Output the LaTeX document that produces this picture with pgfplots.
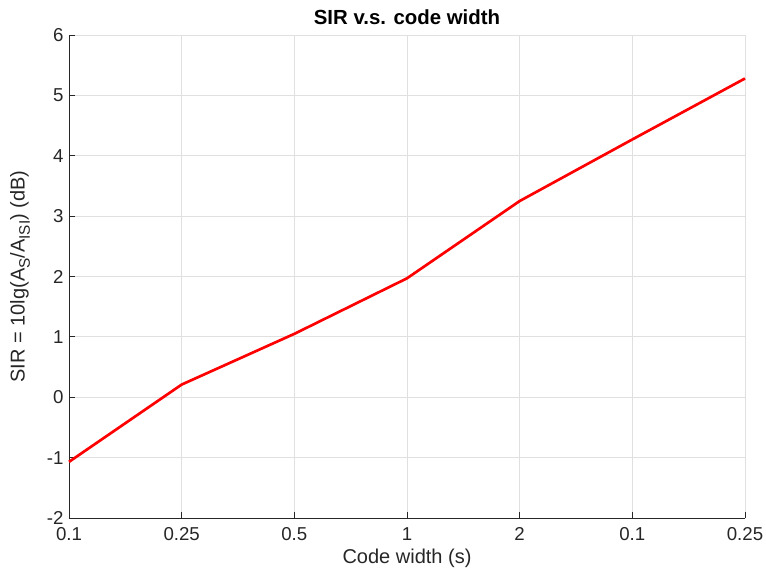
\documentclass[border=0pt]{standalone}
\usepackage{fontspec}
\setmainfont{Liberation Sans}
\usepackage{pgfplots}
\pgfplotsset{compat=1.18}
\definecolor{axgray}{gray}{0.15}
\definecolor{gridgray}{gray}{0.88}
\newcommand{\sub}[1]{\raisebox{-0.5ex}{\fontsize{11.5}{12}\selectfont #1}}
\begin{document}
\begin{tikzpicture}
\begin{axis}[
  scale only axis,
  width=507pt, height=362.25pt,
  xmin=0, xmax=6, ymin=-2, ymax=6,
  xtick={0,1,2,3,4,5,6},
  xticklabels={0.1,0.25,0.5,1,2,0.1,0.25},
  ytick={-2,-1,0,1,2,3,4,5,6},
  axis x line*=bottom, axis y line*=left,
  axis line style={axgray, line width=0.6pt},
  tick style={axgray, line width=0.6pt},
  tick align=inside,
  major tick length=4.5pt,
  grid=major,
  major grid style={gridgray, line width=0.6pt},
  /pgf/number format/assume math mode=true,
  ticklabel style={font=\fontsize{14}{16}\selectfont, text=axgray},
  xticklabel style={yshift=-3.6pt},
  yticklabel style={xshift=-0.6pt},
  label style={font=\fontsize{15}{17}\selectfont, text=axgray},
  xlabel={Code width (s)},
  xlabel style={at={(axis description cs:0.5,-0.0828)}, anchor=center},
  ylabel={SIR = 10lg(A\sub{S}/A\sub{ISI}) (dB)},
  ylabel style={at={(axis description cs:-0.0725,0.5)}, anchor=center},
  every axis title shift=0pt,
  title={\textbf{SIR v.s. code width}},
  title style={font=\fontsize{15.3}{17}\selectfont, at={(axis description cs:0.5,1.0373)}, anchor=center},
  clip=false,
]
\addplot[red, line width=2pt] coordinates {
 (0,-1.07) (1,0.21) (2,1.05) (3,1.97) (4,3.25) (5,4.27) (6,5.28)
};
\end{axis}
\pgfresetboundingbox
\path ([shift={(-51.75pt,-42pt)}]current axis.south west) rectangle ([shift={(15.75pt,26.25pt)}]current axis.north east);
\end{tikzpicture}
\end{document}
